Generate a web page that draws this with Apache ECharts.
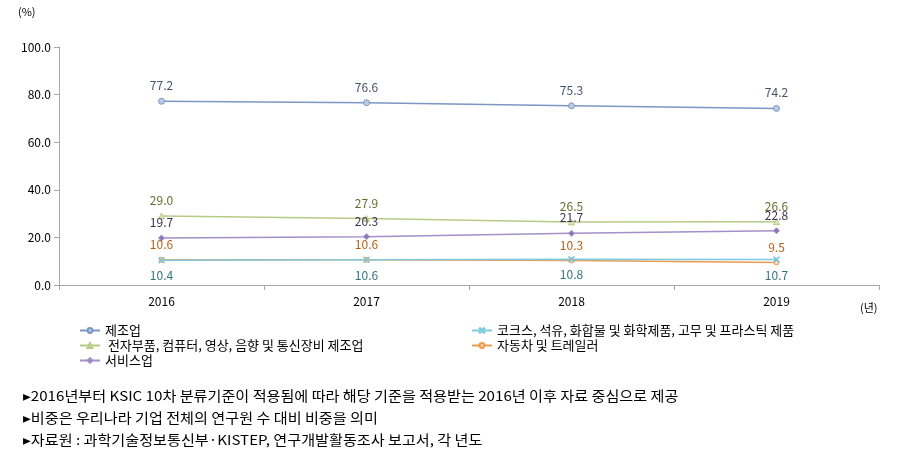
<!DOCTYPE html>
<html><head><meta charset="utf-8">
<script src="https://cdn.jsdelivr.net/npm/echarts@6/dist/echarts.min.js"></script>
<style>html,body{margin:0;padding:0;background:#fff}#c{width:903px;height:468px}</style>
</head><body><div id="c"></div>
<script>
const years = ['2016','2017','2018','2019'];
const manufacturing = [77.2, 76.6, 75.3, 74.2];
const electronics = [29.0, 27.9, 26.5, 26.6];
const services = [19.7, 20.3, 21.7, 22.8];
const automobiles = [10.6, 10.6, 10.3, 9.5];
const chemicals = [10.4, 10.6, 10.8, 10.7];
const yTicks = [0, 20, 40, 60, 80, 100];
const notes = [
  '▸2016년부터 KSIC 10차 분류기준이 적용됨에 따라 해당 기준을 적용받는 2016년 이후 자료 중심으로 제공',
  '▸비중은 우리나라 기업 전체의 연구원 수 대비 비중을 의미',
  '▸자료원 : 과학기술정보통신부·KISTEP, 연구개발활동조사 보고서, 각 년도'
];
const names = ['제조업','코크스, 석유, 화합물 및 화학제품, 고무 및 프라스틱 제품',' 전자부품, 컴퓨터, 영상, 음향 및 통신장비 제조업','자동차 및 트레일러','서비스업'];

const FONT = '"Noto Sans CJK KR", "Noto Sans", sans-serif';
const xSym = 'path://M0,1 L1,0 L5,4 L9,0 L10,1 L6,5 L10,9 L9,10 L5,6 L1,10 L0,9 L4,5 Z';

function mk(name, data, color, labelColor, symbol, pos, size, fill) {
  return {
    name, type: 'line', data, symbol, symbolSize: size, showAllSymbol: true,
    lineStyle: { color, width: 1.5 },
    itemStyle: { color: fill || color, borderColor: color, borderWidth: 1 },
    label: { show: true, position: pos, distance: 6, color: labelColor, fontSize: 12, fontFamily: FONT,
      formatter: p => p.value.toFixed(1) },
    emphasis: { disabled: true }, animation: false
  };
}

const legendText = { fontSize: 13, fontFamily: FONT, color: '#000' };
const chart = echarts.init(document.getElementById('c'));
chart.setOption({
  animation: false,
  grid: { left: 59, right: 24, top: 47, bottom: 183 },
  xAxis: {
    type: 'category', data: years, boundaryGap: true,
    axisLine: { lineStyle: { color: '#a6a6a6' } },
    axisTick: { show: true, lineStyle: { color: '#a6a6a6' }, length: 5 },
    axisLabel: { color: '#000', fontSize: 12, fontFamily: FONT, margin: 10 }
  },
  yAxis: {
    type: 'value', min: 0, max: 100, interval: 20,
    axisLine: { show: true, lineStyle: { color: '#a6a6a6' } },
    axisTick: { show: true, lineStyle: { color: '#a6a6a6' }, length: 5 },
    splitLine: { show: false },
    axisLabel: { color: '#000', fontSize: 12, fontFamily: FONT, margin: 8,
      formatter: v => yTicks.includes(v) ? v.toFixed(1) : '' }
  },
  legend: [
    { orient: 'vertical', left: 74, top: 319, itemGap: 2, itemWidth: 20, itemHeight: 6,
      data: [names[0], names[2], names[4]], textStyle: legendText },
    { orient: 'vertical', left: 466, top: 319, itemGap: 2, itemWidth: 20, itemHeight: 6,
      data: [names[1], names[3]], textStyle: legendText }
  ],
  graphic: [
    { type: 'text', left: 18, top: 6, style: { text: '(%)', fontSize: 11, fontFamily: FONT, fill: '#000' } },
    { type: 'text', left: 860, top: 302, style: { text: '(년)', fontSize: 11, fontFamily: FONT, fill: '#000' } },
    { type: 'text', x: 23, y: 389, scaleX: 1.12, style: { text: notes[0], fontSize: 13.5, fontFamily: FONT, fill: '#000' } },
    { type: 'text', x: 23, y: 411, scaleX: 1.12, style: { text: notes[1], fontSize: 13.5, fontFamily: FONT, fill: '#000' } },
    { type: 'text', x: 23, y: 433, scaleX: 1.12, style: { text: notes[2], fontSize: 13.5, fontFamily: FONT, fill: '#000' } }
  ],
  series: [
    mk(names[0], manufacturing, '#7b97c2', '#44546a', 'circle', 'top', 6, '#b9cbe4'),
    mk(names[2], electronics, '#b5cc85', '#5f6e2c', 'triangle', 'top', 6, '#d7e4bd'),
    mk(names[4], services, '#a48fc9', '#3f3151', 'diamond', 'top', 6, '#8e76b8'),
    mk(names[3], automobiles, '#f09a4e', '#b65f17', 'circle', 'top', 5, '#fbd4b4'),
    mk(names[1], chemicals, '#7fcbe0', '#31737f', xSym, 'bottom', 6, '#4bacc6')
  ]
});
</script></body></html>
